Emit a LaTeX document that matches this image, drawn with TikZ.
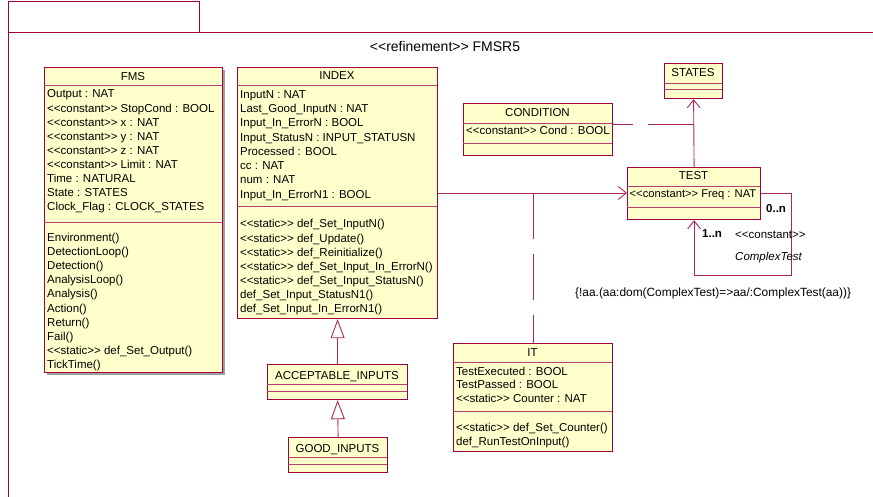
\documentclass[tikz,border=0pt]{standalone}
\usepackage{fontspec}
\newfontfamily\umlfont{Liberation Sans}
\usetikzlibrary{arrows.meta}
\definecolor{umlred}{RGB}{160,0,64}
\definecolor{umlfill}{RGB}{255,255,204}
\begin{document}
\begin{tikzpicture}[x=1pt,y=-1pt,
  font=\umlfont\fontsize{11.5}{13}\selectfont,
  cls/.style={draw=umlred, fill=umlfill, line width=1.2pt, inner sep=0pt, anchor=north west},
  sep/.style={draw=umlred!75, line width=0.9pt},
  txt/.style={anchor=base west, inner sep=0pt},
  hdr/.style={anchor=base, inner sep=0pt},
  assoc/.style={draw=umlred!85, line width=0.9pt},
  nav/.style={assoc, -{Straight Barb[length=8pt,width=13pt]}},
  gen/.style={assoc, -{Triangle[open,length=19pt,width=14pt,fill=white]}},
  assocls/.style={assoc, dash pattern=on 46pt off 15pt}]
\useasboundingbox (0,0) rectangle (873,497);
% frame
\draw[umlred, line width=1pt] (8,497) -- (8,2) -- (199,2) -- (199,33);
\draw[umlred, line width=1pt] (8,33) -- (873,33);
\node[font=\umlfont\fontsize{14}{16}\selectfont] (title) at (445,46) {<<refinement>> FMSR5};

% FMS
\fill[gray!75] (47,70) rectangle (225,375);
\node[cls, minimum width=178pt, minimum height=305pt] (fms) at (44,67) {};
\draw[sep] (44,85) -- (222,85);
\draw[sep] (44,222) -- (222,222);
\node[hdr] (fmsh) at (133,81) {FMS};
\foreach \t [count=\i from 0] in {Output : NAT, <<constant>> StopCond : BOOL, <<constant>> x : NAT, <<constant>> y : NAT, <<constant>> z : NAT, <<constant>> Limit : NAT, Time : NATURAL, State : STATES, Clock\_Flag : CLOCK\_STATES}
  \node[txt] (fmsa\i) at (47,98+14.1*\i) {\t};
\foreach \t [count=\i from 0] in {Environment(), DetectionLoop(), Detection(), AnalysisLoop(), Analysis(), Action(), Return(), Fail(), <<static>> def\_Set\_Output(), TickTime()}
  \node[txt] (fmso\i) at (47,241.5+14.1*\i) {\t};

% INDEX
\node[cls, minimum width=200pt, minimum height=251pt] (index) at (237,67) {};
\draw[sep] (237,85) -- (437,85);
\draw[sep] (237,206) -- (437,206);
\node[hdr] (indexh) at (337,80) {INDEX};
\foreach \t [count=\i from 0] in {InputN : NAT, Last\_Good\_InputN : NAT, Input\_In\_ErrorN : BOOL, Input\_StatusN : INPUT\_STATUSN, Processed : BOOL, cc : NAT, num : NAT, Input\_In\_ErrorN1 : BOOL}
  \node[txt] (indexa\i) at (240,98.3+14.28*\i) {\t};
\foreach \t [count=\i from 0] in {<<static>> def\_Set\_InputN(), <<static>> def\_Update(), <<static>> def\_Reinitialize(), <<static>> def\_Set\_Input\_In\_ErrorN(), <<static>> def\_Set\_Input\_StatusN(), def\_Set\_Input\_StatusN1(), def\_Set\_Input\_In\_ErrorN1()}
  \node[txt] (indexo\i) at (240,228+14.05*\i) {\t};

% ACCEPTABLE_INPUTS
\node[cls, minimum width=140pt, minimum height=35pt] (acc) at (267,364) {};
\draw[sep] (267,384) -- (407,384);
\draw[sep] (267,391) -- (407,391);
\node[hdr] (acch) at (337,379) {ACCEPTABLE\_INPUTS};

% GOOD_INPUTS
\node[cls, minimum width=99pt, minimum height=35pt] (good) at (288,437) {};
\draw[sep] (288,457) -- (387,457);
\draw[sep] (288,464) -- (387,464);
\node[hdr] (goodh) at (337.5,452) {GOOD\_INPUTS};

% STATES
\node[cls, minimum width=58pt, minimum height=35pt] (states) at (664,63) {};
\draw[sep] (664,83) -- (722,83);
\draw[sep] (664,89) -- (722,89);
\node[hdr] (statesh) at (693,77) {STATES};

% CONDITION
\node[cls, minimum width=149pt, minimum height=52pt] (cond) at (463,103) {};
\draw[sep] (463,123) -- (612,123);
\draw[sep] (463,143) -- (612,143);
\node[hdr] (condh) at (537.5,117) {CONDITION};
\node[txt] (conda0) at (466,135) {<<constant>> Cond : BOOL};

% TEST
\node[cls, minimum width=133pt, minimum height=52pt] (test) at (627,167) {};
\draw[sep] (627,186) -- (760,186);
\draw[sep] (627,207) -- (760,207);
\node[hdr] (testh) at (693.5,180) {TEST};
\node[txt, font=\umlfont\fontsize{11.2}{13}\selectfont] (testa0) at (629.5,198) {<<constant>> Freq : NAT};

% IT
\node[cls, minimum width=159pt, minimum height=108pt] (it) at (453,343) {};
\draw[sep] (453,362) -- (612,362);
\draw[sep] (453,411) -- (612,411);
\node[hdr] (ith) at (532.5,356) {IT};
\foreach \t [count=\i from 0] in {TestExecuted : BOOL, TestPassed : BOOL, <<static>> Counter : NAT}
  \node[txt] (ita\i) at (456,375+13.6*\i) {\t};
\node[txt] (ito0) at (456,431) {<<static>> def\_Set\_Counter()};
\node[txt] (ito1) at (456,445) {def\_RunTestOnInput()};

% connectors
\draw[gen] (acc.north) -- (index.south);
\draw[gen] (good.north) -- (acc.south);
\draw[nav] (index.east |- 0,193) -- (test.west |- 0,193);
\draw[nav] (test.north) -- (states.south);
\coordinate (loopc) at (791,275);
\draw[nav] (test.east |- 0,193) -| (loopc) -| (test.south);
\coordinate (condjoin) at (test.north |- 0,124);
\draw[assocls] (condjoin) -- (cond.east |- condjoin);
\coordinate (itjoin) at (it.north |- 0,193);
\draw[assocls] (itjoin) -- (it.north);

% labels
\node[txt, font=\umlfont\bfseries\fontsize{11.5}{13}\selectfont] (mult0) at (766,213) {0..n};
\node[txt, font=\umlfont\bfseries\fontsize{11.5}{13}\selectfont] (mult1) at (702,237) {1..n};
\node[txt] (stereo) at (735,239) {<<constant>>};
\node[txt, font=\umlfont\itshape\fontsize{11.5}{13}\selectfont] (rolename) at (735,261) {ComplexTest};
\node[txt, font=\umlfont\fontsize{11.9}{13}\selectfont] (constraint) at (575,296) {\{!aa.(aa:dom(ComplexTest)=>aa/:ComplexTest(aa))\}};
\end{tikzpicture}
\end{document}
